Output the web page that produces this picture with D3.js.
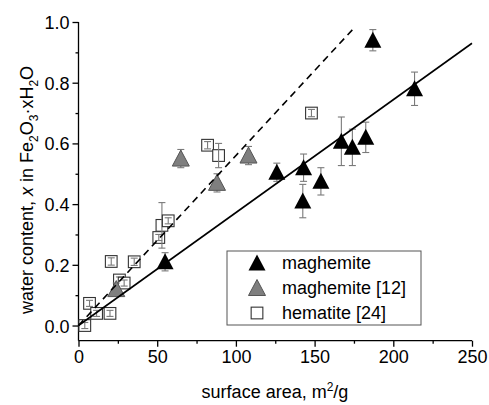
<!DOCTYPE html>
<html>
<head>
<meta charset="utf-8">
<script src="https://cdn.jsdelivr.net/npm/d3@7"></script>
<style>
  body { margin: 0; background: #fff; }
  svg { display: block; font-family: "Liberation Sans", Arial, sans-serif; }
</style>
</head>
<body>
<svg id="chart" width="489" height="405"></svg>
<script>
// maghemite (this work)
const magX = [55, 126, 143, 142.5, 154, 167, 174, 182.5, 187, 213.5];
const magY = [0.21, 0.505, 0.52, 0.41, 0.475, 0.607, 0.587, 0.62, 0.94, 0.78];
const magErr = [0.03, 0.03, 0.045, 0.055, 0.045, 0.08, 0.06, 0.05, 0.035, 0.055];

// maghemite [12]
const mag12X = [24, 65, 88, 108];
const mag12Y = [0.12, 0.55, 0.47, 0.56];
const mag12Err = [0.02, 0.03, 0.03, 0.03];

// hematite [24]
const hemX = [4, 7, 11.5, 20, 20.8, 26, 29, 35.4, 51, 53, 57, 82, 89, 148];
const hemY = [0.0, 0.073, 0.04, 0.04, 0.211, 0.15, 0.14, 0.21, 0.29, 0.33, 0.345, 0.594, 0.56, 0.70];
const hemErr = [0.01, 0.01, 0.01, 0.01, 0.012, 0.01, 0.01, 0.012, 0.01, 0.075, 0.01, 0.012, 0.04, 0.012];

// linear fits: [x0, x1, intercept, slope]
const solidFit = [0, 250, 0.0, 0.00372];
const dashedFit = [0, 176, 0.0, 0.0056];

const xTicks = [0, 50, 100, 150, 200, 250];
const yTicks = [0.0, 0.2, 0.4, 0.6, 0.8, 1.0];
const legendLabels = ["maghemite", "maghemite [12]", "hematite [24]"];

const svg = d3.select("#chart");
const x = d3.scaleLinear().domain([0, 250]).range([78.5, 472]);
const y = d3.scaleLinear().domain([-0.05, 1.0]).range([340.7, 22]);

// axes
const xAxis = d3.axisBottom(x).tickValues(xTicks).tickSize(6).tickPadding(4).tickFormat(d3.format("d"));
const xMinor = d3.axisBottom(x).tickValues(d3.range(25, 250, 50)).tickSize(3).tickFormat("");
const yAxis = d3.axisLeft(y).tickValues(yTicks).tickSize(6).tickPadding(3).tickFormat(d3.format(".1f"));
const yMinor = d3.axisLeft(y).tickValues([-0.1, 0.1, 0.3, 0.5, 0.7, 0.9].filter(v => v > -0.05)).tickSize(3).tickFormat("");

function styleAxis(g) {
  g.select(".domain").attr("stroke", "#000").attr("stroke-width", 1.3);
  g.selectAll(".tick line").attr("stroke", "#000").attr("stroke-width", 1.3);
  g.selectAll(".tick text").attr("fill", "#000").style("font-size", "18px");
}

const gx = svg.append("g").attr("transform", `translate(0,${y.range()[0]})`).call(xAxis).call(styleAxis);
gx.select(".domain").attr("d", `M${x.range()[0]},0H${x.range()[1]}`);
svg.append("g").attr("transform", `translate(0,${y.range()[0]})`).call(xMinor).call(styleAxis).select(".domain").remove();

const gy = svg.append("g").attr("transform", `translate(${x.range()[0]},0)`).call(yAxis).call(styleAxis);
gy.select(".domain").attr("d", `M0,${y.range()[0]}V${y.range()[1]}`);
gy.selectAll(".tick text").attr("dy", "0.36em");
svg.append("g").attr("transform", `translate(${x.range()[0]},0)`).call(yMinor).call(styleAxis).select(".domain").remove();

// axis titles
const xt = svg.append("text").attr("x", 275).attr("y", 398).attr("text-anchor", "middle").style("font-size", "18px");
xt.append("tspan").text("surface area, m");
xt.append("tspan").attr("dy", -7).style("font-size", "12px").text("2");
xt.append("tspan").attr("dy", 7).text("/g");

const yt = svg.append("text").attr("transform", "translate(33,190) rotate(-90)").attr("text-anchor", "middle").style("font-size", "18px");
yt.append("tspan").text("water content, ");
yt.append("tspan").style("font-style", "italic").text("x");
yt.append("tspan").text(" in Fe");
yt.append("tspan").attr("dy", 5).style("font-size", "12px").text("2");
yt.append("tspan").attr("dy", -5).text("O");
yt.append("tspan").attr("dy", 5).style("font-size", "12px").text("3");
yt.append("tspan").attr("dy", -5).text("·xH");
yt.append("tspan").attr("dy", 5).style("font-size", "12px").text("2");
yt.append("tspan").attr("dy", -5).text("O");

const triPath = "M0,-8.5L8.5,7.5L-8.5,7.5Z";
const sq = 11.7;
const errColor = "#7a7a7a";

function errorBars(g, xs, ys, es) {
  xs.forEach((xv, i) => {
    const px = x(xv), top = y(ys[i] + es[i]), bot = y(ys[i] - es[i]);
    g.append("line").attr("x1", px).attr("x2", px).attr("y1", top).attr("y2", bot);
    g.append("line").attr("x1", px - 3.5).attr("x2", px + 3.5).attr("y1", top).attr("y2", top);
    g.append("line").attr("x1", px - 3.5).attr("x2", px + 3.5).attr("y1", bot).attr("y2", bot);
  });
  g.attr("stroke", errColor).attr("stroke-width", 1.1);
}

// hematite squares (error bars drawn over each hollow square)
hemX.forEach((xv, i) => {
  svg.append("rect")
    .attr("x", x(xv) - sq / 2).attr("y", y(hemY[i]) - sq / 2)
    .attr("width", sq).attr("height", sq)
    .attr("fill", "#fff").attr("stroke", "#333").attr("stroke-width", 1.1);
  errorBars(svg.append("g"), [xv], [hemY[i]], [hemErr[i]]);
});

// triangles: error bars below markers
errorBars(svg.append("g"), mag12X, mag12Y, mag12Err);
svg.append("g").selectAll("path").data(mag12X).enter().append("path")
  .attr("d", triPath)
  .attr("transform", (d, i) => `translate(${x(d)},${y(mag12Y[i])})`)
  .attr("fill", "#7f7f7f").attr("stroke", "#555").attr("stroke-width", 1);

errorBars(svg.append("g"), magX, magY, magErr);
svg.append("g").selectAll("path").data(magX).enter().append("path")
  .attr("d", triPath)
  .attr("transform", (d, i) => `translate(${x(d)},${y(magY[i])})`)
  .attr("fill", "#000");

// fit lines
function fitLine(f, dash) {
  svg.append("line")
    .attr("x1", x(f[0])).attr("y1", y(f[2] + f[3] * f[0]))
    .attr("x2", x(f[1])).attr("y2", y(f[2] + f[3] * f[1]))
    .attr("stroke", "#000").attr("stroke-width", 1.6)
    .attr("stroke-dasharray", dash);
}
fitLine(solidFit, null);
fitLine(dashedFit, "7,5");

// legend
const lg = svg.append("g");
lg.append("rect").attr("x", 227).attr("y", 251).attr("width", 194).attr("height", 74)
  .attr("fill", "#fff").attr("stroke", "#555").attr("stroke-width", 1);
const rowY = d3.scalePoint().domain(legendLabels).range([263, 313]);
legendLabels.forEach((lab, i) => {
  const cy = rowY(lab);
  if (i < 2) {
    lg.append("path").attr("d", triPath).attr("transform", `translate(257,${cy})`)
      .attr("fill", i === 0 ? "#000" : "#7f7f7f").attr("stroke", i === 0 ? null : "#555");
  } else {
    lg.append("rect").attr("x", 257 - sq / 2).attr("y", cy - sq / 2).attr("width", sq).attr("height", sq)
      .attr("fill", "#fff").attr("stroke", "#333").attr("stroke-width", 1.1);
  }
  lg.append("text").attr("x", 282).attr("y", cy).attr("dy", "0.36em")
    .style("font-size", "18px").text(lab);
});
</script>
</body>
</html>
